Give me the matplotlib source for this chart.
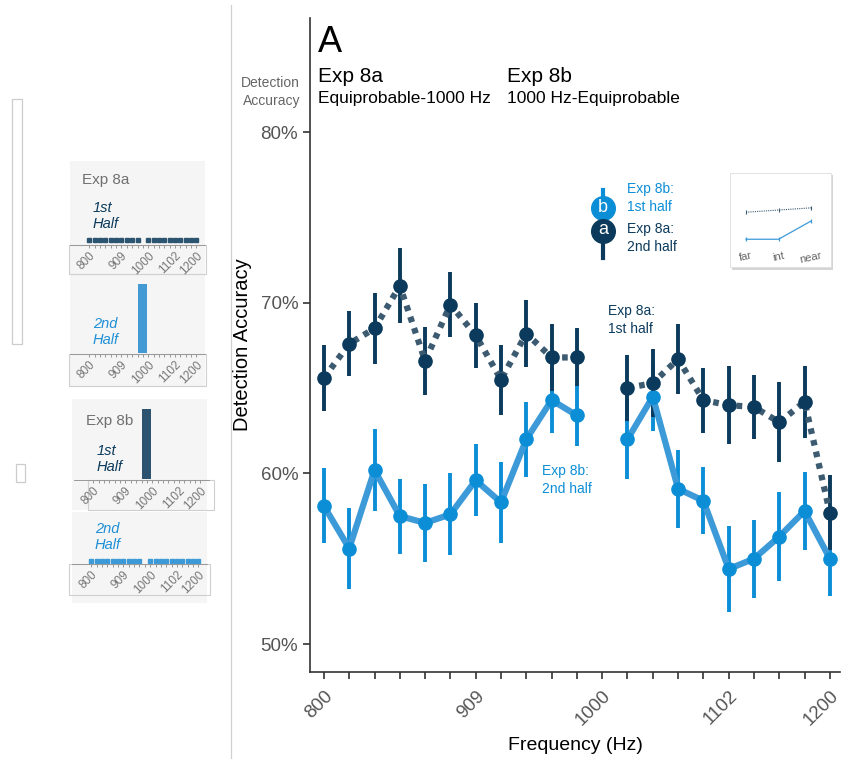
import numpy as np
import matplotlib.pyplot as plt
from matplotlib.patches import Rectangle
from matplotlib.lines import Line2D

plt.rcParams['font.family'] = ['Liberation Sans', 'DejaVu Sans']

W, H = 841, 759
nan = np.nan

# main chart data: 21 frequency steps between 800 and 1200 Hz (1000 Hz omitted)
freq_idx = np.arange(21)
tick_idx = [0, 6, 11, 16, 20]
tick_labels = ["800", "909", "1000", "1102", "1200"]

acc_dark = [65.6, 67.6, 68.5, 71.0, 66.6, 69.9, 68.1, 65.5, 68.2, 66.8, 66.8, nan,
            65.0, 65.3, 66.7, 64.3, 64.0, 63.9, 63.0, 64.2, 57.7]
err_dark = [1.95, 1.9, 2.1, 2.2, 2.0, 1.9, 1.9, 2.05, 1.95, 1.95, 1.7, nan,
            1.95, 2.0, 2.05, 1.9, 2.3, 1.9, 2.35, 2.1, 2.2]
acc_light = [58.1, 55.6, 60.2, 57.5, 57.1, 57.6, 59.6, 58.3, 62.0, 64.3, 63.4, nan,
             62.0, 64.5, 59.1, 58.4, 54.4, 55.0, 56.3, 57.8, 55.0]
err_light = [2.2, 2.4, 2.4, 2.2, 2.3, 2.4, 2.1, 2.4, 2.2, 1.9, 1.8, nan,
             2.35, 2.0, 2.3, 1.95, 2.5, 2.3, 2.6, 2.3, 2.2]

# small inset: distance from standard
dist_labels = ["far", "int", "near"]
dist_dark = [0.49, 0.52, 0.55]
dist_light = [0.12, 0.12, 0.37]

# left schematic panels: stimulus probability per frequency step
inset_pos = np.arange(21)
uniform_p = [0.05] * 10 + [nan] + [0.05] * 10
peaked_p = [0] * 10 + [1.0] + [0] * 10
inset_tick_idx = [0, 6, 11, 16, 20]

DARK = "#0b3a5c"
DARK_LINE = "#3c5b71"
LIGHT = "#0c8ed6"
LIGHT_LINE = "#3d9ad8"
GREY = "#555555"


def px(x0, y0, x1, y1):
    return [x0 / W, 1 - y1 / H, (x1 - x0) / W, (y1 - y0) / H]


fig = plt.figure(figsize=(W / 100, H / 100), dpi=100)

# decorations on the left
fig.add_artist(Line2D([231 / W, 231 / W], [0, 1 - 5 / H], color="#d0d0d0", lw=0.9))
fig.add_artist(Rectangle((12 / W, 1 - 344 / H), 10 / W, 245 / H, fill=False,
                         ec="#cccccc", lw=0.9))
fig.add_artist(Rectangle((16 / W, 1 - 482 / H), 9 / W, 18 / H, fill=False,
                         ec="#cccccc", lw=0.9))

panels = [
    # bg box, plot box, strip frame, values, color, title, half text, text colour, shift
    ((70, 161, 205, 275), (70, 161, 205, 245), (69, 245, 206, 274),
     uniform_p, "#2b5470", "Exp 8a", "1st\nHalf", DARK, 0),
    ((70, 274, 205, 386), (70, 274, 205, 354), (69, 354, 206, 386),
     peaked_p, "#4299d4", None, "2nd\nHalf", "#1f8fd6", 0),
    ((72, 399, 207, 510), (74, 399, 209, 480), (88, 480, 214, 510),
     peaked_p, "#2c5470", "Exp 8b", "1st\nHalf", DARK, 4),
    ((72, 512, 207, 603), (72, 512, 207, 564), (69, 564, 210, 595),
     uniform_p, "#3d9ad8", None, "2nd\nHalf", "#1f8fd6", 2),
]
half_y = [216, 332, 459, 537]
title_y = [180, None, 421, None]

for i, (bg, box, strip, vals, col, title, half, hcol, dx) in enumerate(panels):
    fig.add_artist(Rectangle((bg[0] / W, 1 - bg[3] / H), (bg[2] - bg[0]) / W,
                             (bg[3] - bg[1]) / H, fc="#f5f5f5", ec="none", zorder=-2))
    fig.add_artist(Rectangle((strip[0] / W, 1 - strip[3] / H), (strip[2] - strip[0]) / W,
                             (strip[3] - strip[1]) / H, fill=False, ec="#cfcfcf", lw=0.8,
                             zorder=-1))
    a = fig.add_axes(px(*box))
    a.set_facecolor("none")
    a.set_xlim(-3.6, 21.6)
    a.set_ylim(-0.02, 1.14)
    if vals is peaked_p:
        a.bar(inset_pos, vals, width=1.65, color=col)
    else:
        a.plot(inset_pos, vals, ls="none", marker="s", ms=2.6, color=col)
    for s in ["left", "top", "right"]:
        a.spines[s].set_visible(False)
    a.spines["bottom"].set_color("#999999")
    a.spines["bottom"].set_linewidth(0.7)
    a.set_yticks([])
    a.set_xticks(inset_tick_idx)
    a.set_xticks(inset_pos, minor=True)
    a.set_xticklabels(tick_labels, rotation=45, ha="right", va="top",
                      rotation_mode="anchor", fontsize=8.5, color="#777777")
    a.tick_params(axis="x", which="both", length=2, width=0.6, color="#888888", pad=1.5)
    if title:
        fig.text((82 + dx) / W, 1 - title_y[i] / H, title, fontsize=11,
                 color="#707070", va="center")
    fig.text((93 + dx) / W, 1 - half_y[i] / H, half, fontsize=10.5, style="italic",
             color=hcol, va="center", linespacing=1.2)

# main chart
ax = fig.add_axes(px(310, 18, 840, 672))
ax.set_facecolor("none")
x = freq_idx
ax.errorbar(x, acc_light, yerr=err_light, fmt="none", ecolor=LIGHT, elinewidth=2.8,
            capsize=0)
ax.errorbar(x, acc_dark, yerr=err_dark, fmt="none", ecolor=DARK, elinewidth=2.8,
            capsize=0)
ax.plot(x, acc_light, color=LIGHT_LINE, lw=4.5, solid_capstyle="round")
ax.plot(x, acc_dark, color=DARK_LINE, lw=4.5, ls=(0, (0.9, 1.0)))
ax.plot(x, acc_light, ls="none", marker="o", ms=9.5, color=LIGHT)
ax.plot(x, acc_dark, ls="none", marker="o", ms=9.5, color=DARK)

ax.set_xlim(-0.55, 20.4)
ax.set_ylim(48.36, 86.7)
ax.set_yticks([50, 60, 70, 80])
ax.set_yticklabels(["50%", "60%", "70%", "80%"])
ax.set_xticks(tick_idx)
ax.set_xticks(freq_idx, minor=True)
ax.set_xticklabels(tick_labels, rotation=45, ha="right", va="top",
                   rotation_mode="anchor")
ax.tick_params(axis="both", which="both", length=5, width=1.2, color="#333333",
               labelsize=13.5, labelcolor=GREY)
ax.tick_params(axis="x", pad=6)
for s in ["top", "right"]:
    ax.spines[s].set_visible(False)
for s in ["left", "bottom"]:
    ax.spines[s].set_color("#333333")
    ax.spines[s].set_linewidth(1.2)
ax.set_xlabel("Frequency (Hz)", fontsize=14, labelpad=6)
ax.set_ylabel("Detection Accuracy", fontsize=14.5, labelpad=6)

# titles
fig.text(318 / W, 1 - 42 / H, "A", fontsize=26, va="center")
fig.text(318 / W, 1 - 76 / H, "Exp 8a", fontsize=15, va="center")
fig.text(318 / W, 1 - 99 / H, "Equiprobable-1000 Hz", fontsize=12.5, va="center")
fig.text(507 / W, 1 - 76 / H, "Exp 8b", fontsize=15, va="center")
fig.text(507 / W, 1 - 99 / H, "1000 Hz-Equiprobable", fontsize=12.5, va="center")
fig.text(300 / W, 1 - 92 / H, "Detection\nAccuracy", fontsize=10, color="#666666",
         ha="right", va="center", linespacing=1.35)

# direct labels
fig.text(608 / W, 1 - 320 / H, "Exp 8a:\n1st half", fontsize=10, color=DARK,
         va="center", linespacing=1.3)
fig.text(542 / W, 1 - 480 / H, "Exp 8b:\n2nd half", fontsize=10, color=LIGHT,
         va="center", linespacing=1.3)

# legend glyph
fig.add_artist(Line2D([603 / W, 603 / W], [1 - 190 / H, 1 - 208 / H], color=LIGHT, lw=3))
fig.add_artist(Line2D([603 / W, 603 / W], [1 - 231 / H, 1 - 258 / H], color=DARK, lw=3))
fig.add_artist(Line2D([603 / W], [1 - 208 / H], marker="o", ms=17, color=LIGHT, ls="none"))
fig.add_artist(Line2D([603 / W], [1 - 231 / H], marker="o", ms=17, color=DARK, ls="none"))
fig.text(603 / W, 1 - 207 / H, "b", color="white", fontsize=13, ha="center", va="center")
fig.text(603 / W, 1 - 230 / H, "a", color="white", fontsize=13, ha="center", va="center")
fig.text(627 / W, 1 - 198 / H, "Exp 8b:\n1st half", fontsize=10, color=LIGHT,
         va="center", linespacing=1.3)
fig.text(627 / W, 1 - 238 / H, "Exp 8a:\n2nd half", fontsize=10, color=DARK,
         va="center", linespacing=1.3)

# distance inset
fig.add_artist(Rectangle((732 / W, 1 - 270 / H), 101 / W, 95 / H, fc="#c4c4c4",
                         ec="none", alpha=0.7, zorder=-2))
fig.add_artist(Rectangle((730 / W, 1 - 267 / H), 101 / W, 94 / H, fc="white",
                         ec="#dddddd", lw=0.6, zorder=-1))
ia = fig.add_axes(px(732, 175, 830, 248))
ia.set_facecolor("none")
ia.errorbar([0, 1, 2], dist_dark, yerr=0.03, color=DARK_LINE, lw=0.8, ls=(0, (1, 1)),
            capsize=0, elinewidth=0.8)
ia.errorbar([0, 1, 2], dist_light, yerr=0.03, color=LIGHT_LINE, lw=0.9,
            capsize=0, elinewidth=0.9)
ia.set_xlim(-0.43, 2.58)
ia.set_ylim(0, 1)
ia.set_xticks([0, 1, 2])
ia.set_xticklabels(dist_labels, rotation=12, fontsize=8, color="#666666")
ia.tick_params(length=0, pad=2)
ia.set_yticks([])
for s in ia.spines.values():
    s.set_visible(False)

fig.savefig("out.png", dpi=100)
